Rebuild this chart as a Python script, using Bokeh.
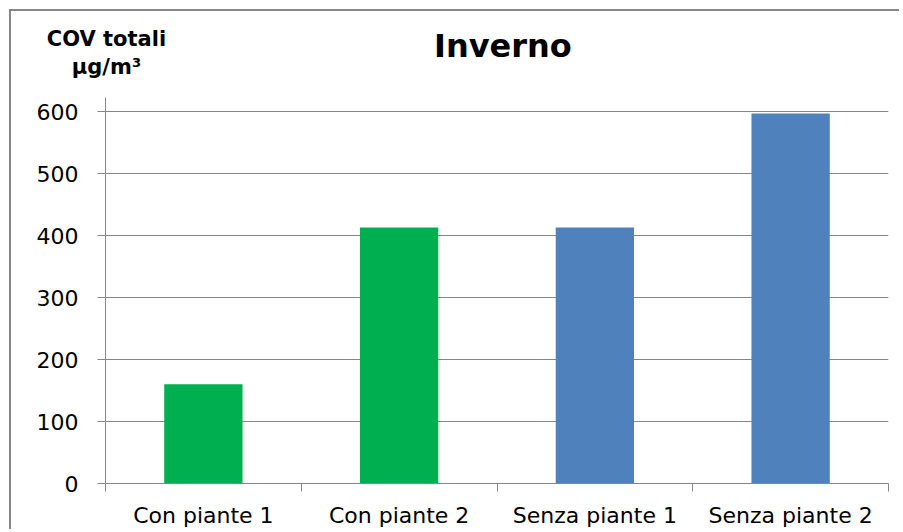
from bokeh.plotting import figure
from bokeh.models import ColumnDataSource, FixedTicker, Range1d, Label
from bokeh.embed import file_html
from bokeh.resources import INLINE

categories = ["Con piante 1", "Con piante 2", "Senza piante 1", "Senza piante 2"]
values = [160, 413, 413, 597]
bar_colors = ["#00B050", "#00B050", "#4F81BD", "#4F81BD"]
y_ticks = [0, 100, 200, 300, 400, 500, 600]

title_text = "Inverno"
y_title_lines = ["COV totali", "µg/m³"]

FONT = "DejaVu Sans"
GRAY = "#868686"

x_pos = [i + 0.5 for i in range(len(categories))]
source = ColumnDataSource(dict(x=x_pos, top=values, color=bar_colors, cat=categories))

p = figure(width=890, height=520, output_backend="svg", toolbar_location=None,
           x_range=Range1d(0, len(categories)), y_range=Range1d(0, 623),
           min_border_left=94, min_border_right=13, min_border_top=86, min_border_bottom=48)
p.styles = {"border-left": f"2px solid {GRAY}", "border-top": f"2px solid {GRAY}",
            "margin-left": "9px", "margin-top": "9px"}

p.vbar(x="x", top="top", width=0.4, color="color", source=source, line_color=None)

p.outline_line_color = None
p.background_fill_color = "white"
p.border_fill_color = "white"

# y axis
p.yaxis.ticker = FixedTicker(ticks=y_ticks)
p.yaxis.axis_line_color = GRAY
p.yaxis.major_tick_line_color = GRAY
p.yaxis.major_tick_in = 0
p.yaxis.major_tick_out = 8
p.yaxis.minor_tick_line_color = None
p.yaxis.major_label_text_font = FONT
p.yaxis.major_label_text_font_size = "22px"
p.yaxis.major_label_text_color = "black"
p.yaxis.major_label_standoff = 19

# x axis: labels at centers, ticks at boundaries
p.xaxis.ticker = FixedTicker(ticks=x_pos, minor_ticks=list(range(len(categories) + 1)))
p.xaxis.major_label_overrides = {x: c for x, c in zip(x_pos, categories)}
p.xaxis.axis_line_color = GRAY
p.xaxis.major_tick_line_color = None
p.xaxis.minor_tick_line_color = GRAY
p.xaxis.minor_tick_in = 0
p.xaxis.minor_tick_out = 8
p.xaxis.major_label_text_font = FONT
p.xaxis.major_label_text_font_size = "22px"
p.xaxis.major_label_text_color = "black"
p.xaxis.major_label_standoff = 11

p.xgrid.grid_line_color = None
p.ygrid.grid_line_color = GRAY
p.ygrid.ticker = FixedTicker(ticks=y_ticks)

# texts above the frame (placed in the "above" side panel so they are not clipped)
p.add_layout(Label(x=2.03, y=706, text=title_text, text_font=FONT, text_font_size="32px",
                   text_font_style="bold", text_align="center", text_baseline="alphabetic",
                   text_color="black"), "above")
p.add_layout(Label(x=0.005, y=717, text=y_title_lines[0], text_font=FONT, text_font_size="21px",
                   text_font_style="bold", text_align="center", text_baseline="alphabetic",
                   text_color="black"), "above")
p.add_layout(Label(x=0.005, y=673, text=y_title_lines[1], text_font=FONT, text_font_size="21px",
                   text_font_style="bold", text_align="center", text_baseline="alphabetic",
                   text_color="black"), "above")

open("out.html", "w").write(file_html(p, INLINE))
